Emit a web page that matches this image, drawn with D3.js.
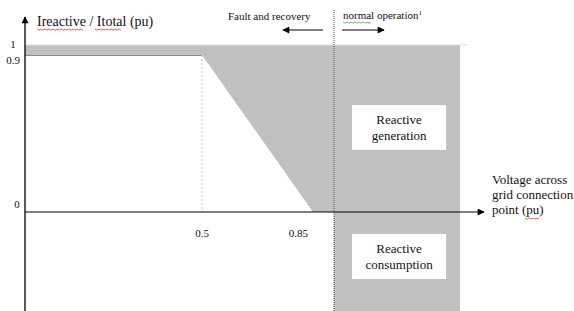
<!DOCTYPE html>
<html>
<head>
<meta charset="utf-8">
<script src="https://cdn.jsdelivr.net/npm/d3@7"></script>
<style>
  body { margin: 0; background: #fff; }
  svg text { font-family: "Liberation Serif", "Times New Roman", serif; fill: #111; }
</style>
</head>
<body>
<script>
// schematic values (voltage in pu on x, Ireactive/Itotal in pu on y)
var xTicks = [0.5, 0.85]
var yTicks = [0, 0.9, 1]
var vKnee = 0.5       // full reactive current below this voltage
var vZero = 0.85      // no reactive current required above this
var vNormal = 0.9     // boundary fault / normal operation
var vMax = 1.2        // right edge of shaded area
var iFull = 0.9
var iMax = 1
var iMin = -0.6

// shaded requirement area
var area = [[0, iMax], [vMax, iMax], [vMax, iMin], [vNormal, iMin], [vNormal, 0],
            [vZero, 0], [vKnee, iFull], [0, iFull]]

// labelled white boxes [v0, v1, i0, i1, line1, line2]
var boxes = [
  [0.943, 1.167, 0.613, 0.356, "Reactive", "generation"],
  [0.943, 1.167, -0.126, -0.384, "Reactive", "consumption"]
]

var width = 574, height = 311
var serif = "Liberation Serif, Times New Roman, serif"

// the drawing is not to scale, so piecewise scales
var x = d3.scaleLinear()
  .domain([0, vKnee, vZero, vNormal])
  .range([25, 202, 313, 334])
var y = d3.scaleLinear()
  .domain([0, iFull, iMax])
  .range([212, 55, 45])

var svg = d3.select("body").append("svg")
  .attr("width", width)
  .attr("height", height)

var defs = svg.append("defs")
defs.append("marker")
  .attr("id", "arr")
  .attr("viewBox", "0 0 10 10")
  .attr("refX", 9).attr("refY", 5)
  .attr("markerWidth", 9).attr("markerHeight", 7)
  .attr("markerUnits", "userSpaceOnUse")
  .attr("orient", "auto")
  .append("path")
  .attr("d", "M0,0L10,5L0,10z")
  .attr("fill", "#000")

// shaded area
var line = d3.line().x(function(d) { return x(d[0]) }).y(function(d) { return y(d[1]) })
svg.append("path")
  .attr("d", line(area) + "Z")
  .attr("fill", "#c0c0c0")

// light top edge
svg.append("line")
  .attr("x1", x(0)).attr("x2", x(vMax) + 8)
  .attr("y1", y(iMax)).attr("y2", y(iMax))
  .attr("stroke", "#dcdcdc")
  .attr("stroke-width", 1)

// edge of white area at 0.9
svg.append("line")
  .attr("x1", x(0)).attr("x2", x(vKnee))
  .attr("y1", y(iFull) + 0.5).attr("y2", y(iFull) + 0.5)
  .attr("stroke", "#8a8a8a")
  .attr("stroke-width", 1)

// dashed guide at 0.5
svg.append("line")
  .attr("x1", x(vKnee)).attr("x2", x(vKnee))
  .attr("y1", y(iFull)).attr("y2", y(0))
  .attr("stroke", "#c4c4c4")
  .attr("stroke-dasharray", "2,2")

// dotted boundary fault / normal operation
svg.append("line")
  .attr("x1", x(vNormal)).attr("x2", x(vNormal))
  .attr("y1", 10).attr("y2", height)
  .attr("stroke", "#555")
  .attr("stroke-dasharray", "1,1")

// white boxes
boxes.forEach(function(b) {
  var g = svg.append("g")
  g.append("rect")
    .attr("x", x(b[0])).attr("y", y(b[2]))
    .attr("width", x(b[1]) - x(b[0]))
    .attr("height", y(b[3]) - y(b[2]))
    .attr("fill", "#fff")
  var cx = (x(b[0]) + x(b[1])) / 2
  var cy = (y(b[2]) + y(b[3])) / 2
  g.append("text").attr("x", cx).attr("y", cy - 3)
    .attr("font-family", serif)
    .attr("text-anchor", "middle").attr("font-size", 13).text(b[4])
  g.append("text").attr("x", cx).attr("y", cy + 13)
    .attr("font-family", serif)
    .attr("text-anchor", "middle").attr("font-size", 13).text(b[5])
})

// axes
svg.append("line")
  .attr("x1", x(0)).attr("x2", x(0))
  .attr("y1", height).attr("y2", 17)
  .attr("stroke", "#000").attr("stroke-width", 1.3)
  .attr("marker-end", "url(#arr)")
svg.append("line")
  .attr("x1", x(0)).attr("x2", 484)
  .attr("y1", y(0)).attr("y2", y(0))
  .attr("stroke", "#000").attr("stroke-width", 1)
  .attr("marker-end", "url(#arr)")

// tick labels
svg.selectAll(".ytick")
  .data(yTicks)
  .enter().append("text")
  .attr("class", "ytick")
  .attr("x", function(d) { return d == 0 ? 17 : 13 })
  .attr("y", function(d) { return d == 0 ? y(d) - 4 : (d == 1 ? y(d) + 3 : y(d) + 9) })
  .attr("text-anchor", "middle")
  .attr("font-family", serif)
  .attr("font-size", 11)
  .text(function(d) { return d })

svg.selectAll(".xtick")
  .data(xTicks)
  .enter().append("text")
  .attr("class", "xtick")
  .attr("x", function(d) { return d == vZero ? x(d) - 5 : x(d) })
  .attr("y", y(0) + 25)
  .attr("text-anchor", function(d) { return d == vZero ? "end" : "middle" })
  .attr("font-family", serif)
  .attr("font-size", 11)
  .text(function(d) { return d })

// axis titles
svg.append("text")
  .attr("x", 37).attr("y", 26)
  .attr("font-family", serif)
  .attr("font-size", 14)
  .text("Ireactive / Itotal (pu)")

// spell-check squiggles as in the source document
function squiggle(x0, x1, yy, col) {
  var pts = []
  for (var px = x0; px <= x1; px += 2) pts.push([px, yy + ((px - x0) % 4 == 0 ? 0 : 1.2)])
  svg.append("path")
    .attr("d", d3.line()(pts))
    .attr("fill", "none")
    .attr("stroke", col)
    .attr("stroke-width", 0.8)
}
squiggle(37, 84, 29, "#d33")
squiggle(95, 121, 29, "#d33")

var xt = svg.append("text")
  .attr("x", 492).attr("y", 184)
  .attr("font-family", serif)
  .attr("font-size", 13)
;["Voltage across", "grid connection", "point (pu)"].forEach(function(s, i) {
  xt.append("tspan").attr("x", 492).attr("dy", i == 0 ? 0 : 15).text(s)
})
squiggle(525, 540, 218, "#d33")

// operating region labels
svg.append("text")
  .attr("x", 228).attr("y", 20)
  .attr("font-family", serif)
  .attr("font-size", 11)
  .text("Fault and recovery")
svg.append("line")
  .attr("x1", 323).attr("x2", 283)
  .attr("y1", 30).attr("y2", 30)
  .attr("stroke", "#000").attr("stroke-width", 1.2)
  .attr("marker-end", "url(#arr)")

var no = svg.append("text")
  .attr("x", 343).attr("y", 19)
  .attr("font-family", serif)
  .attr("font-size", 11)
no.append("tspan").text("normal operation")
no.append("tspan").attr("font-size", 7).attr("dy", -4).text("1")
squiggle(343, 372, 22, "#4a4")
svg.append("line")
  .attr("x1", 342).attr("x2", 384)
  .attr("y1", 30).attr("y2", 30)
  .attr("stroke", "#000").attr("stroke-width", 1.2)
  .attr("marker-end", "url(#arr)")
</script>
</body>
</html>
